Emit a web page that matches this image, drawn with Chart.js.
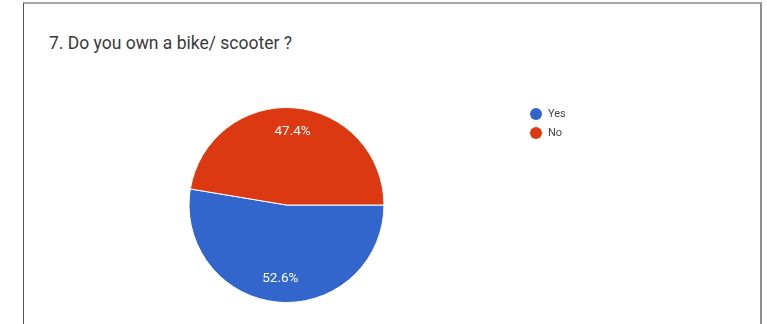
<!DOCTYPE html>
<html>
<head>
<meta charset="utf-8">
<script src="https://cdn.jsdelivr.net/npm/chart.js@4"></script>
<style>
  html, body { margin: 0; padding: 0; background: #fff; }
  #wrap { position: relative; width: 767px; height: 324px; overflow: hidden; }
  #frame { position: absolute; left: 23px; top: 2px; width: 736px; height: 340px;
           border-left: 1px solid #555; border-top: 2px solid #a4a4a4; border-right: 2px solid #8f8f8f; }
  #title { position: absolute; left: 49px; top: 33px; font: 17.5px Roboto, Arial, sans-serif; color: #3a3a3a; }
  canvas { position: absolute; left: 0; top: 0; }
</style>
</head>
<body>
<div id="wrap">
  <div id="frame"></div>
  <div id="title">7. Do you own a bike/ scooter ?</div>
  <canvas id="c" width="767" height="324"></canvas>
</div>
<script>
const categories = ["Yes", "No"];
const responses = [10, 9];
const percentLabels = ["52.6%", "47.4%"];
const sliceColors = ["#3366cc", "#dc3912"];

const sliceLabelPlugin = {
  id: 'sliceLabels',
  afterDatasetsDraw(chart) {
    const ctx = chart.ctx;
    const meta = chart.getDatasetMeta(0);
    ctx.save();
    ctx.fillStyle = '#ffffff';
    ctx.font = '13.5px Roboto, Arial, sans-serif';
    ctx.textAlign = 'center';
    ctx.textBaseline = 'middle';
    meta.data.forEach((arc, i) => {
      const p = arc.getProps(['x', 'y', 'startAngle', 'endAngle', 'outerRadius'], true);
      const mid = (p.startAngle + p.endAngle) / 2;
      const r = p.outerRadius * 0.76;
      ctx.fillText(percentLabels[i], p.x + Math.cos(mid) * r, p.y + Math.sin(mid) * r);
    });
    ctx.restore();
  }
};

const sideLegendPlugin = {
  id: 'sideLegend',
  afterDraw(chart, args, opts) {
    const ctx = chart.ctx;
    ctx.save();
    ctx.font = '11px Roboto, Arial, sans-serif';
    ctx.textBaseline = 'middle';
    ctx.textAlign = 'left';
    chart.data.labels.forEach((lab, i) => {
      const y = opts.y + i * opts.step;
      ctx.fillStyle = chart.data.datasets[0].backgroundColor[i];
      ctx.beginPath();
      ctx.arc(opts.x, y, opts.r, 0, Math.PI * 2);
      ctx.fill();
      ctx.fillStyle = '#444';
      ctx.fillText(lab, opts.x + 12, y + 0.5);
    });
    ctx.restore();
  }
};

new Chart(document.getElementById('c'), {
  type: 'pie',
  data: {
    labels: categories,
    datasets: [{
      data: responses,
      backgroundColor: sliceColors,
      borderColor: '#ffffff',
      borderWidth: 1
    }]
  },
  options: {
    responsive: false,
    animation: false,
    rotation: 90,
    layout: { padding: { top: 107, bottom: 21, left: 188, right: 382 } },
    plugins: {
      legend: { display: false },
      tooltip: { enabled: false },
      sideLegend: { x: 536, y: 114, step: 19, r: 6 }
    }
  },
  plugins: [sliceLabelPlugin, sideLegendPlugin]
});
</script>
</body>
</html>
